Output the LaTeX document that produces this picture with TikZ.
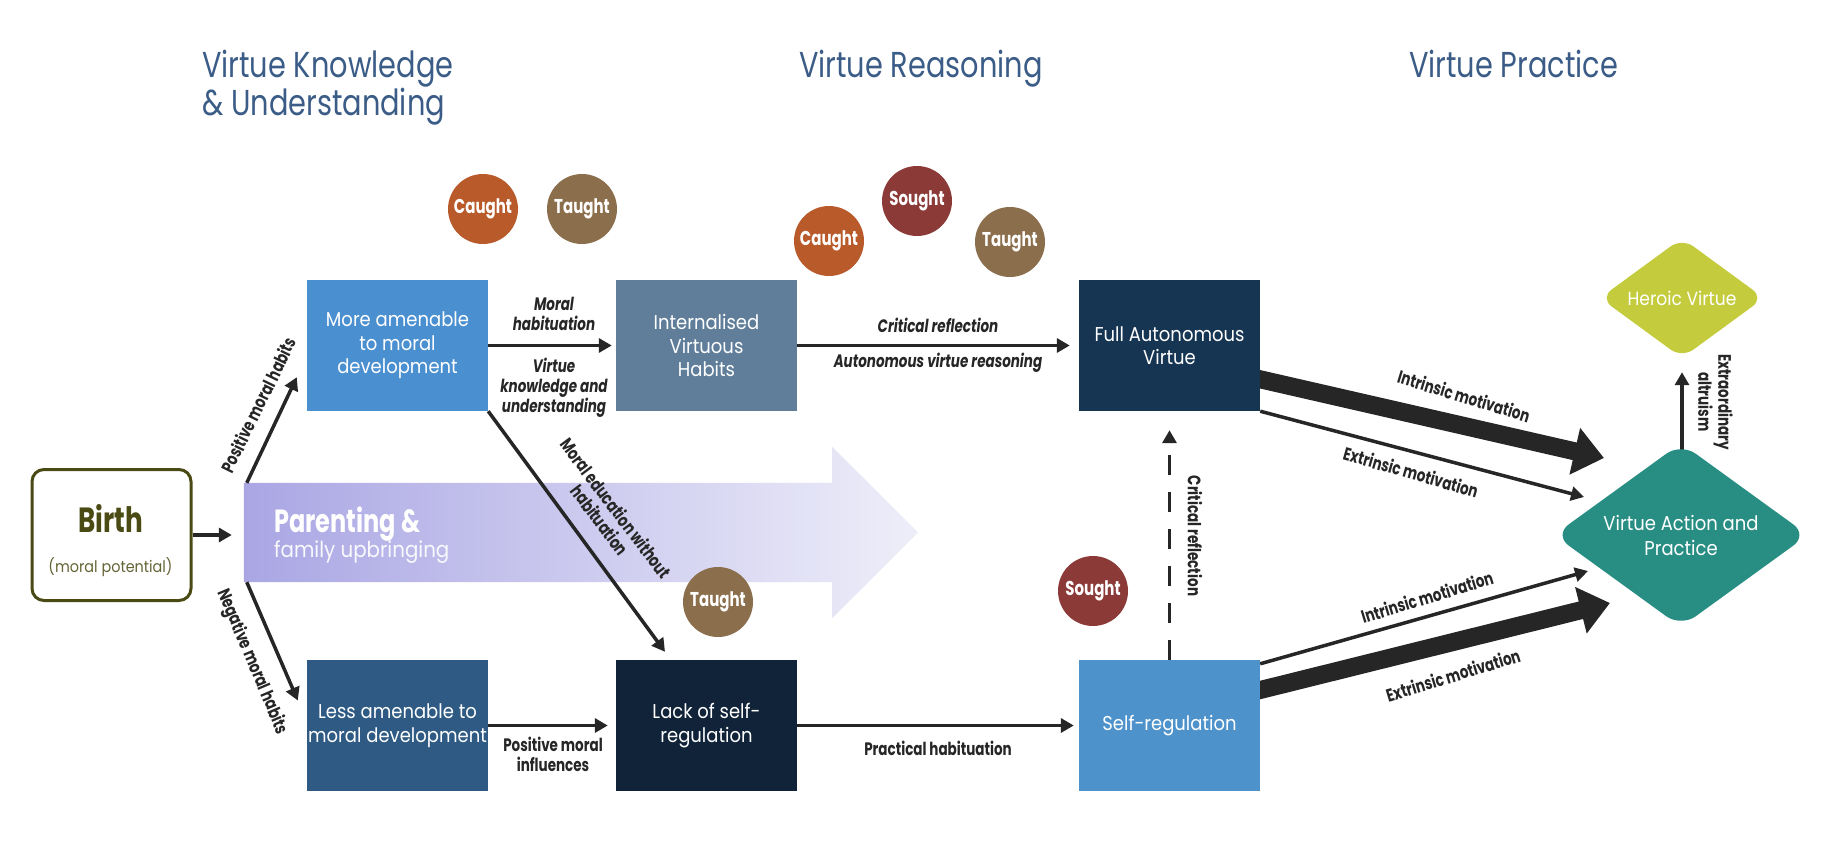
\documentclass[tikz,border=0pt]{standalone}
\usepackage{fontspec}
\setmainfont{Poppins}
\newfontfamily\ftitle[FakeStretch=0.8]{Poppins}
\newfontfamily\fbx[FakeStretch=0.9]{Poppins}
\newfontfamily\flab[FakeStretch=0.75]{Poppins}
\usetikzlibrary{arrows.meta,shapes.geometric,calc}
\pgfdeclarelayer{bg}
\pgfsetlayers{bg,main}
\definecolor{titleblue}{RGB}{58,92,135}
\definecolor{boxA}{RGB}{74,143,208}
\definecolor{boxB}{RGB}{96,126,154}
\definecolor{boxC}{RGB}{22,53,82}
\definecolor{boxD}{RGB}{46,90,132}
\definecolor{boxE}{RGB}{16,35,56}
\definecolor{boxF}{RGB}{78,146,204}
\definecolor{caught}{RGB}{184,90,42}
\definecolor{taught}{RGB}{139,110,76}
\definecolor{sought}{RGB}{139,58,56}
\definecolor{heroic}{RGB}{196,204,62}
\definecolor{action}{RGB}{40,142,132}
\definecolor{birthc}{RGB}{74,74,20}
\definecolor{arrowc}{RGB}{38,38,38}
\definecolor{parL}{RGB}{170,166,228}
\definecolor{parM}{RGB}{196,194,238}
\definecolor{parR}{RGB}{238,238,249}
\tikzset{
  box/.style={rectangle, minimum width=181pt, minimum height=131pt, inner sep=0pt, text=white, align=center, font=\fbx\fontsize{20}{23.5}\selectfont},
  circ/.style={circle, minimum size=70pt, inner sep=0pt, text=white, font=\flab\bfseries\fontsize{20}{24}\selectfont},
  lab/.style={text=arrowc, align=center, inner sep=0pt, font=\flab\bfseries\fontsize{18}{20}\selectfont},
  labi/.style={lab, font=\flab\bfseries\itshape\fontsize{18}{20}\selectfont},
  ttl/.style={text=titleblue, anchor=base west, inner sep=0pt, font=\ftitle\fontsize{36}{40}\selectfont},
  arr/.style={draw=arrowc, line width=3.5pt, -{Triangle[length=13pt,width=14pt]}},
  fatarr/.style={draw=arrowc, line width=18pt, -{Triangle[length=30pt,width=46pt]}},
}
\begin{document}
\begin{tikzpicture}[x=1pt,y=-1pt]
\useasboundingbox (0,0) rectangle (1829,856);
% titles
\node[ttl] (t1) at (202,78) {Virtue Knowledge};
\node[ttl] (t1b) at (202,116) {\& Understanding};
\node[ttl] (t2) at (799,78) {Virtue Reasoning};
\node[ttl] (t3) at (1409,78) {Virtue Practice};
% birth
\node[draw=birthc, line width=3pt, rounded corners=12pt, fill=white, minimum width=159pt, minimum height=131pt, inner sep=0pt] (birth) at (111.5,535) {};
\node[text=birthc, font=\flab\bfseries\fontsize{35}{40}\selectfont, anchor=base, inner sep=0pt] (birthT) at (110.5,532) {Birth};
\node[text=birthc!85!white, font=\fbx\fontsize{16}{19}\selectfont, anchor=base, inner sep=0pt] (birthS) at (110.5,572) {(moral potential)};
% parenting
\node[minimum width=588pt, minimum height=99pt, inner sep=0pt] (par) at (538,532.5) {};
% boxes
\node[box, fill=boxA] (ma) at (397.5,345.5) {More amenable\\to moral\\development};
\node[box, fill=boxB] (ih) at (706.5,345.5) {Internalised\\Virtuous\\Habits};
\node[box, fill=boxC] (fa) at (1169.5,345.5) {Full Autonomous\\Virtue};
\node[box, fill=boxD] (la) at (397.5,725.5) {Less amenable to\\moral development};
\node[box, fill=boxE] (ls) at (706.5,725.5) {Lack of self-\\regulation};
\node[box, fill=boxF] (sr) at (1169.5,725.5) {Self-regulation};
% diamonds
\node[diamond, fill=heroic, minimum width=164pt, minimum height=120pt, inner sep=0pt, rounded corners=14pt] (hv) at (1682,298) {};
\node[text=white, font=\fbx\fontsize{19}{22}\selectfont, inner sep=0pt] (hvT) at (hv) {Heroic Virtue};
\node[diamond, fill=action, minimum width=254pt, minimum height=184pt, inner sep=0pt, rounded corners=18pt] (va) at (1681,535) {};
\node[text=white, align=center, font=\fbx\fontsize{20}{25}\selectfont, inner sep=0pt] (vaT) at (va) {Virtue Action and\\Practice};
% circles
\node[circ, fill=caught] (c1) at (483,209) {Caught};
\node[circ, fill=taught] (tc1) at (582,209) {Taught};
\node[circ, fill=caught] (c2) at (829,241) {Caught};
\node[circ, fill=sought] (s1) at (917,201) {Sought};
\node[circ, fill=taught] (tc2) at (1010,242) {Taught};
\node[circ, fill=taught] (tc3) at (718,602) {Taught};
\node[circ, fill=sought] (s2) at (1093,591) {Sought};
% background layer: parenting arrow and connectors
\begin{pgfonlayer}{bg}
\fill[white] (0,0) rectangle (1829,856);
\shade[left color=parL, middle color=parM, right color=parR] (par.north west) -- (par.north east) -- ($(par.north east)+(0,-36)$) -- ($(par.east)+(86,0)$) -- ($(par.south east)+(0,36)$) -- (par.south east) -- (par.south west) -- cycle;
\draw[arr, shorten >=12pt] (birth.east) -- (birth.east -| par.west);
\draw[arr] ($(par.north west)+(3,0)$) -- ($(ma.south west)+(-10,-34)$);
\draw[arr] ($(par.south west)+(3,0)$) -- ($(la.west)+(-9,-25)$);
\draw[arr, shorten >=4pt] (ma.east) -- (ih.west);
\draw[arr, shorten >=9pt] (ih.east) -- (fa.west);
\draw[arr, shorten >=8pt] (la.east) -- (ls.west);
\draw[arr, shorten >=5pt] (ls.east) -- (sr.west);
\draw[arr] (ma.south east) -- ($(ls.north)+(-41.5,-8)$);
\draw[arr, dash pattern=on 20pt off 17pt, shorten >=19pt] (sr.north) -- (fa.south);
\draw[fatarr] ($(fa.east)+(-10,31.5)$) -- ($(va)+(-77,-77)$);
\draw[arr] (fa.south east) -- ($(va)+(-97,-38)$);
\draw[arr] ($(sr.north east)+(0,4)$) -- ($(va)+(-93,36)$);
\draw[fatarr] ($(sr.east)+(-10,-33)$) -- ($(va)+(-71,68)$);
\draw[arr] ($(va.north)+(1,7)$) -- ($(hv.south)+(0,14)$);
\end{pgfonlayer}
% parenting text
\node[text=white, anchor=base west, font=\flab\bfseries\fontsize{32}{36}\selectfont, inner sep=0pt] (parT) at (274,532) {Parenting \&};
\node[text=white!92!parL, anchor=base west, font=\fbx\fontsize{22}{26}\selectfont, inner sep=0pt] (parS) at (274,557) {family upbringing};
% labels
\node[labi] (lMH) at (554,314) {Moral\\habituation};
\node[labi] (lVK) at (554,388) {Virtue\\knowledge and\\understanding};
\node[labi] (lCR) at (938,325) {Critical reflection};
\node[labi] (lAV) at (938,363) {Autonomous virtue reasoning};
\node[lab] (lPI) at (553,754) {Positive moral\\influences};
\node[lab] (lPH) at (938,748) {Practical habituation};
\node[lab, rotate=64] (lPos) at (258,405) {Positive moral habits};
\node[lab, rotate=-67] (lNeg) at (252,662) {Negative moral habits};
\node[lab, rotate=-53] (lME) at (608,514) {Moral education without\\habituation};
\node[lab, rotate=-90] (lCR2) at (1195,536) {Critical reflection};
\node[lab, rotate=-90] (lEA) at (1715.5,402) {Extraordinary\\altruism};
\node[lab, rotate=-17] (lIM1) at (1464,396) {Intrinsic motivation};
\node[lab, rotate=-16] (lEM1) at (1411,472) {Extrinsic motivation};
\node[lab, rotate=17] (lIM2) at (1427,597) {Intrinsic motivation};
\node[lab, rotate=17] (lEM2) at (1453,675) {Extrinsic motivation};
\end{tikzpicture}
\end{document}
